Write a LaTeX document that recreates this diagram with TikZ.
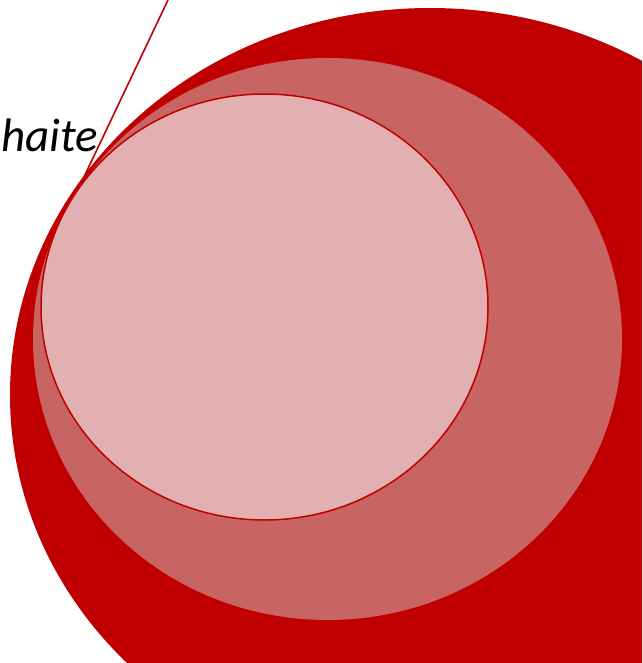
\documentclass[tikz,border=0pt]{standalone}
\usepackage{fontspec}
\setmainfont{Carlito}
\definecolor{darkred}{HTML}{C00000}
\definecolor{midred}{HTML}{C86562}
\definecolor{lightred}{HTML}{E2B0B0}
\begin{document}
\begin{tikzpicture}[x=1pt,y=-1pt]
\useasboundingbox (0,0) rectangle (642,663);
\clip (0,0) rectangle (642,663);
\fill[white] (0,0) rectangle (642,663);
\fill[darkred] (430,395) ellipse [x radius=420, y radius=387];
\fill[midred] (327.5,339) ellipse [x radius=294.5, y radius=281];
\filldraw[fill=lightred,draw=darkred,line width=1.5pt] (264.5,307) ellipse [x radius=223.5, y radius=213];
\coordinate (top) at (168,0);
\coordinate (tip) at (84,177);
\draw[darkred,line width=1.6pt] (top) -- (tip);
\node[anchor=base west,inner sep=0pt,font=\fontsize{47}{51}\selectfont\itshape] (txt) at (1,152) {haite};
\end{tikzpicture}
\end{document}
